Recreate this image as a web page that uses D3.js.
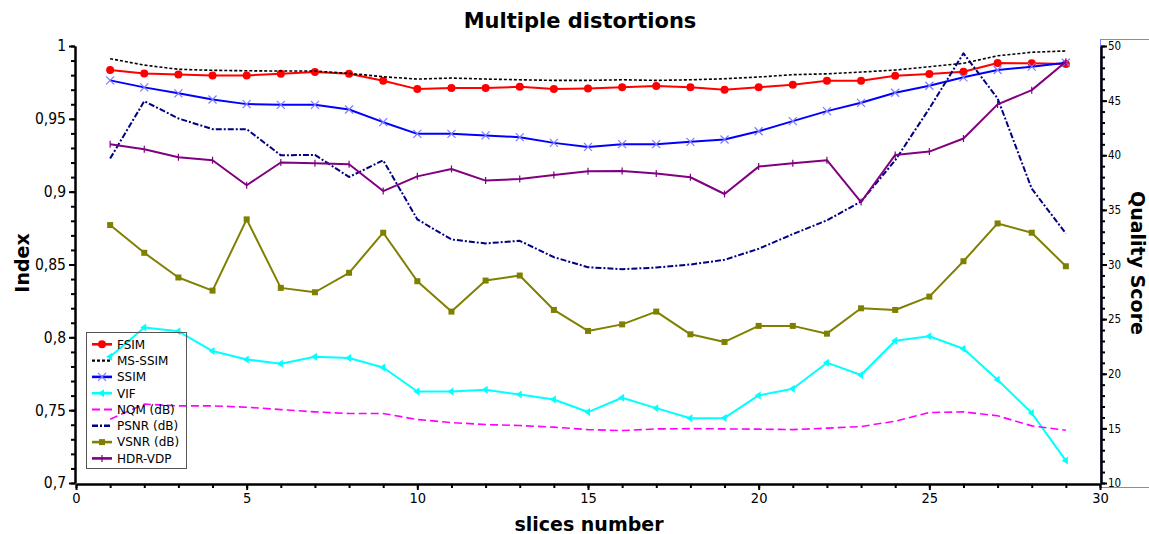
<!DOCTYPE html>
<html>
<head>
<meta charset="utf-8">
<script src="https://cdn.jsdelivr.net/npm/d3@7"></script>
<style>
  body { margin: 0; background: #fff; }
  svg { display: block; }
  .tick text { font-family: "DejaVu Sans Condensed", "DejaVu Sans", sans-serif; fill: #000; }
</style>
</head>
<body>
<svg width="1149" height="534"></svg>
<script>
// slice numbers 1..29
const slices = [1,2,3,4,5,6,7,8,9,10,11,12,13,14,15,16,17,18,19,20,21,22,23,24,25,26,27,28,29]

// left axis (Index)
const fsim = [0.9835,0.9812,0.9805,0.9798,0.9798,0.9809,0.9821,0.9809,0.9761,0.9704,0.9711,0.9711,0.972,0.9704,0.9709,0.9716,0.9725,0.9716,0.9699,0.9716,0.9734,0.9761,0.9761,0.9796,0.9807,0.9823,0.9883,0.9881,0.9876]
const msssim = [0.9913,0.9869,0.984,0.9833,0.983,0.9828,0.9828,0.9812,0.9789,0.9773,0.978,0.9773,0.9768,0.9764,0.9764,0.9768,0.9764,0.9768,0.9775,0.9787,0.9803,0.9809,0.9821,0.9835,0.9858,0.9881,0.9933,0.9957,0.9966]
const ssim = [0.9764,0.9716,0.9675,0.9633,0.9601,0.9596,0.9596,0.9564,0.9477,0.9397,0.9397,0.9386,0.9374,0.9335,0.9307,0.9326,0.9326,0.9342,0.9358,0.9415,0.9484,0.9553,0.961,0.9679,0.9727,0.9785,0.9835,0.9858,0.9885]
const vif = [0.7867,0.8067,0.8041,0.7906,0.7848,0.7819,0.7867,0.7858,0.7793,0.7628,0.7628,0.764,0.7607,0.7573,0.7487,0.7585,0.7514,0.7445,0.7447,0.7601,0.7647,0.7826,0.7741,0.7977,0.8007,0.7922,0.7709,0.748,0.7154]
const hdrvdp = [0.9326,0.9291,0.9236,0.9216,0.9044,0.92,0.9195,0.9188,0.9004,0.9105,0.9156,0.9076,0.9087,0.9114,0.914,0.9142,0.9124,0.9099,0.8984,0.9172,0.9195,0.9216,0.8929,0.9252,0.9275,0.9365,0.9599,0.9697,0.9892]

// right axis (Quality Score, dB)
const nqm = [15.84,17.22,17.06,17.06,16.94,16.72,16.51,16.36,16.36,15.81,15.53,15.35,15.26,15.11,14.89,14.8,14.95,14.98,14.95,14.93,14.89,15.02,15.17,15.66,16.45,16.51,16.15,15.23,14.83]
const psnr = [39.7,44.95,43.37,42.39,42.39,40.0,40.03,38.01,39.54,34.13,32.29,31.93,32.17,30.67,29.75,29.57,29.72,30.0,30.43,31.44,32.78,34.04,35.76,39.54,44.28,49.33,45.2,36.94,32.84]
const vsnr = [33.61,31.07,28.81,27.61,34.13,27.86,27.46,29.24,32.91,28.47,25.69,28.53,28.99,25.84,23.92,24.52,25.69,23.61,22.91,24.38,24.38,23.67,25.99,25.84,27.06,30.3,33.76,32.91,29.84]

const xTicks = [0,5,10,15,20,25,30]
const leftTicks = [0.7,0.75,0.8,0.85,0.9,0.95,1]
const rightTicks = [10,15,20,25,30,35,40,45,50]

const svg = d3.select("svg")

const x = d3.scaleLinear().domain([0, 30]).range([76, 1100])
const yL = d3.scaleLinear().domain([0.7, 1]).range([483, 46])
const yR = d3.scaleLinear().domain([10, 50]).range([483, 46])

const comma = (d) => d3.format(".2~f")(d).replace(".", ",")

// light blue frame of the right axis box
svg.append("rect")
  .attr("x", 1100.5).attr("y", 39.5)
  .attr("width", 80).attr("height", 448)
  .attr("fill", "none")
  .attr("stroke", "#7f7fff")

// series definitions
const series = [
  { name: "FSIM", values: fsim, y: yL, color: "#ff0000", width: 2, dash: null, marker: "circle" },
  { name: "MS-SSIM", values: msssim, y: yL, color: "#000000", width: 1.6, dash: "3,2", marker: null },
  { name: "SSIM", values: ssim, y: yL, color: "#0000ff", width: 2, dash: null, marker: "x" },
  { name: "VIF", values: vif, y: yL, color: "#00ffff", width: 2, dash: null, marker: "tri" },
  { name: "NQM (dB)", values: nqm, y: yR, color: "#ff00ff", width: 1.6, dash: "8,4", marker: null },
  { name: "PSNR (dB)", values: psnr, y: yR, color: "#000080", width: 2, dash: "6,2,2,2", marker: null },
  { name: "VSNR (dB)", values: vsnr, y: yR, color: "#808000", width: 2, dash: null, marker: "square" },
  { name: "HDR-VDP", values: hdrvdp, y: yL, color: "#800080", width: 2, dash: null, marker: "tick" }
]

const drawMarker = (g, type, color, cx, cy) => {
  if (type === "circle") {
    g.append("circle").attr("cx", cx).attr("cy", cy).attr("r", 4).attr("fill", color)
  } else if (type === "x") {
    g.append("path")
      .attr("d", `M${cx - 4},${cy - 4}L${cx + 4},${cy + 4}M${cx - 4},${cy + 4}L${cx + 4},${cy - 4}`)
      .attr("stroke", "#7b7bff").attr("stroke-width", 1.2)
  } else if (type === "tri") {
    g.append("path")
      .attr("d", `M${cx - 4},${cy}L${cx + 2},${cy - 4}L${cx + 2},${cy + 4}Z`)
      .attr("fill", color)
  } else if (type === "square") {
    g.append("rect").attr("x", cx - 3).attr("y", cy - 3).attr("width", 6).attr("height", 6).attr("fill", color)
  } else if (type === "tick") {
    g.append("path")
      .attr("d", `M${cx},${cy - 3.5}L${cx},${cy + 3.5}`)
      .attr("stroke", color).attr("stroke-width", 1.2)
  }
}

const plot = svg.append("g")

series.forEach((s) => {
  const line = d3.line().x((d, i) => x(slices[i])).y((d) => s.y(d))
  plot.append("path")
    .datum(s.values)
    .attr("fill", "none")
    .attr("stroke", s.color)
    .attr("stroke-width", s.width)
    .attr("stroke-dasharray", s.dash)
    .attr("stroke-linejoin", "round")
    .attr("d", line)
  if (s.marker) {
    const mg = plot.append("g")
    s.values.forEach((v, i) => drawMarker(mg, s.marker, s.color, x(slices[i]), s.y(v)))
  }
})

// axes
const styleAxis = (g, size) => {
  g.select(".domain").attr("stroke", "#000").attr("stroke-width", 2)
  g.selectAll(".tick line").attr("stroke", "#000").attr("stroke-width", 2)
  g.selectAll(".tick text").style("font-size", size + "px")
}

const minor = (lo, hi, step) => d3.range(lo, hi + step / 2, step)

// x axis
svg.append("g")
  .attr("transform", "translate(0,484)")
  .call(d3.axisBottom(x).tickValues(minor(0, 30, 1)).tickSize(4).tickFormat("").tickSizeOuter(0))
  .call((g) => styleAxis(g, 14))
svg.append("g")
  .attr("transform", "translate(0,484)")
  .call(d3.axisBottom(x).tickValues(xTicks).tickSize(6).tickPadding(3).tickSizeOuter(0))
  .call((g) => styleAxis(g, 14.5))

// left axis
svg.append("g")
  .attr("transform", "translate(75,0)")
  .call(d3.axisLeft(yL).tickValues(minor(0.7, 1, 0.01)).tickSize(4).tickFormat("").tickSizeOuter(0))
  .call((g) => styleAxis(g, 15))
svg.append("g")
  .attr("transform", "translate(75,0)")
  .call(d3.axisLeft(yL).tickValues(leftTicks).tickSize(6).tickPadding(3).tickFormat(comma).tickSizeOuter(0))
  .call((g) => styleAxis(g, 15.5))

// right axis
svg.append("g")
  .attr("transform", "translate(1101,0)")
  .call(d3.axisRight(yR).tickValues(minor(10, 50, 1)).tickSize(4).tickFormat("").tickSizeOuter(0))
  .call((g) => styleAxis(g, 12))
svg.append("g")
  .attr("transform", "translate(1101,0)")
  .call(d3.axisRight(yR).tickValues(rightTicks).tickSize(6).tickPadding(1).tickSizeOuter(0))
  .call((g) => styleAxis(g, 11.5))

// titles
const bold = "DejaVu Sans, sans-serif"
svg.append("text")
  .attr("x", 580).attr("y", 28)
  .attr("text-anchor", "middle")
  .attr("font-family", bold).attr("font-weight", "bold").attr("font-size", 21)
  .text("Multiple distortions")
svg.append("text")
  .attr("x", 589).attr("y", 531)
  .attr("text-anchor", "middle")
  .attr("font-family", bold).attr("font-weight", "bold").attr("font-size", 19)
  .text("slices number")
svg.append("text")
  .attr("transform", "translate(29,263) rotate(-90)")
  .attr("text-anchor", "middle")
  .attr("font-family", bold).attr("font-weight", "bold").attr("font-size", 19)
  .text("Index")
svg.append("text")
  .attr("transform", "translate(1131,263) rotate(90)")
  .attr("text-anchor", "middle")
  .attr("font-family", bold).attr("font-weight", "bold").attr("font-size", 19)
  .text("Quality Score")

// legend
const legend = svg.append("g")
legend.append("rect")
  .attr("x", 86.5).attr("y", 332.5)
  .attr("width", 100).attr("height", 136)
  .attr("fill", "none")
  .attr("stroke", "#555").attr("stroke-width", 1)

series.forEach((s, i) => {
  const ly = 344.3 + i * 16.3
  legend.append("line")
    .attr("x1", 92).attr("x2", 112)
    .attr("y1", ly).attr("y2", ly)
    .attr("stroke", s.color)
    .attr("stroke-width", s.width + 0.6)
    .attr("stroke-dasharray", s.dash)
  if (s.marker) drawMarker(legend, s.marker, s.color, 102, ly)
  legend.append("text")
    .attr("x", 117).attr("y", ly + 4.3)
    .attr("font-family", "DejaVu Sans, sans-serif")
    .attr("font-size", 12)
    .text(s.name)
})
</script>
</body>
</html>
